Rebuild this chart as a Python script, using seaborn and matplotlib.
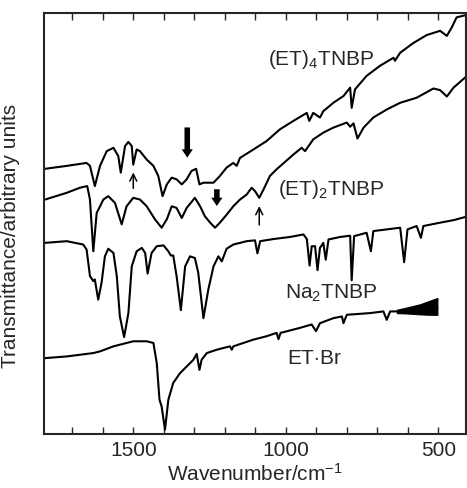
import numpy as np
import pandas as pd
import matplotlib
matplotlib.use('Agg')
import matplotlib.pyplot as plt
import seaborn as sns

# wavenumber (cm-1) and transmittance (arbitrary, offset)
et4_wn = [1789, 1718, 1653, 1642, 1626, 1609, 1587, 1565, 1549, 1541, 1527, 1516, 1505, 1500,
          1489, 1478, 1456, 1434, 1418, 1404, 1390, 1374, 1358, 1341, 1325, 1309, 1294, 1283,
          1270, 1237, 1216, 1194, 1172, 1161, 1150, 1106, 1063, 1019, 975, 931, 923, 910, 888,
          877, 844, 811, 789, 784, 773, 735, 691, 647, 642, 625, 582, 538, 494, 472, 456, 440, 412]
et4_t = [63.0, 63.7, 64.4, 63.7, 58.9, 63.7, 67.2, 68.0, 66.0, 62.1, 68.4, 69.4, 68.4, 64.0,
         67.6, 67.2, 65.2, 63.7, 61.3, 56.5, 59.3, 60.9, 60.5, 59.3, 60.5, 62.5, 63.0, 59.3,
         59.7, 59.7, 61.3, 63.3, 64.4, 63.7, 65.6, 67.6, 69.6, 72.4, 74.4, 76.3, 74.4, 76.3, 75.2,
         76.7, 78.7, 80.3, 82.3, 77.5, 81.9, 85.1, 87.5, 89.4, 88.7, 90.6, 92.9, 94.8, 95.8, 94.6,
         96.6, 99.0, 99.5]

et2_wn = [1789, 1718, 1675, 1651, 1642, 1631, 1620, 1598, 1582, 1560, 1538, 1522, 1500, 1478,
          1456, 1429, 1407, 1390, 1374, 1358, 1341, 1325, 1298, 1281, 1265, 1248, 1232, 1216,
          1194, 1172, 1150, 1128, 1112, 1101, 1087, 1073, 1052, 1030, 975, 948, 937, 910, 877,
          844, 800, 789, 778, 765, 745, 713, 669, 625, 571, 516, 494, 472, 450, 428, 409]
et2_t = [55.7, 57.3, 58.5, 58.9, 55.7, 43.4, 52.5, 55.7, 56.5, 54.9, 49.8, 54.1, 56.1, 55.7,
         54.1, 51.0, 49.0, 51.0, 54.1, 53.7, 51.3, 53.7, 56.1, 54.1, 51.7, 50.2, 49.0, 50.2,
         52.1, 54.1, 55.7, 56.9, 58.5, 57.7, 56.1, 58.1, 61.3, 62.9, 66.4, 68.0, 67.2, 70.0, 71.6,
         72.8, 74.0, 73.0, 73.8, 70.2, 72.8, 75.2, 77.1, 78.7, 79.9, 82.1, 81.7, 80.2, 82.3, 83.7, 84.9]

na2_wn = [1789, 1718, 1664, 1653, 1642, 1631, 1626, 1615, 1604, 1593, 1582, 1565, 1554, 1544,
          1530, 1516, 1505, 1489, 1472, 1461, 1453, 1440, 1423, 1401, 1385, 1377, 1369, 1358,
          1344, 1330, 1314, 1298, 1287, 1270, 1254, 1237, 1221, 1210, 1194, 1172, 1128, 1101,
          1093, 1084, 1041, 986, 942, 931, 922, 915, 904, 896, 888, 877, 869, 860, 822, 789, 784,
          776, 735, 721, 713, 669, 625, 612, 601, 571, 557, 549, 494, 450, 409]
na2_t = [45.4, 45.8, 45.0, 43.8, 37.5, 36.3, 36.7, 31.9, 35.9, 42.2, 44.0, 43.0, 37.5, 27.9,
         23.0, 28.7, 39.8, 43.4, 44.2, 43.0, 38.1, 43.0, 44.6, 44.8, 43.4, 42.4, 42.4, 37.5,
         29.4, 39.8, 42.2, 41.8, 38.3, 27.5, 34.3, 39.8, 42.2, 41.0, 44.0, 45.0, 45.8, 46.0,
         42.9, 45.8, 46.3, 46.8, 47.4, 46.3, 40.0, 44.6, 44.6, 38.9, 44.2, 45.4, 41.4, 46.2, 46.8,
         47.1, 36.5, 47.0, 47.8, 43.4, 48.2, 48.6, 49.0, 40.8, 48.6, 49.4, 46.6, 49.4, 50.2, 50.8, 51.6]

etbr_wn = [1789, 1718, 1631, 1609, 1565, 1522, 1500, 1456, 1434, 1423, 1414, 1407, 1396, 1385,
           1369, 1347, 1325, 1303, 1292, 1283, 1276, 1259, 1226, 1183, 1177, 1172, 1106, 1063,
           1030, 1024, 1017, 953, 915, 901, 888, 844, 816, 811, 800, 724, 680, 669, 658, 636,
           600, 560, 503]
etbr_t = [18.0, 18.4, 19.2, 19.6, 20.8, 21.6, 22.0, 22.0, 21.6, 16.8, 8.1, 6.5, 1.0, 8.1,
          12.1, 14.4, 16.0, 17.6, 19.0, 15.2, 17.6, 19.2, 20.0, 20.8, 20.0, 20.8, 22.4, 23.2,
          24.0, 22.5, 24.0, 25.2, 26.0, 24.4, 26.3, 27.5, 27.9, 26.3, 28.3, 28.7, 29.1, 27.1, 29.1,
          29.1, 29.4, 29.6, 29.8]
# noisy (blackened) end of the ET-Br trace: envelope
band_wn = [636, 600, 560, 530, 503]
band_hi = [29.5, 30.1, 30.8, 31.6, 32.3]
band_lo = [28.7, 28.6, 28.4, 28.3, 28.3]

labels = ['(ET)$\\mathregular{_4}$TNBP', '(ET)$\\mathregular{_2}$TNBP',
          'Na$\\mathregular{_2}$TNBP', 'ET$\\cdot$Br']
label_wn = [1057, 1024, 1002, 997]
label_t = [89.0, 58.1, 33.5, 18.0]

thin_arrow_wn = [1500, 1087]
thin_arrow_from = [57.7, 49.0]
thin_arrow_to = [62.8, 54.8]
thick_arrow_wn = [1323, 1226]
thick_arrow_from = [73.5, 58.8]
thick_arrow_to = [65.0, 53.5]

sns.set_style('ticks')
plt.rcParams['font.family'] = ['Liberation Sans', 'DejaVu Sans']
plt.rcParams['mathtext.fontset'] = 'custom'
plt.rcParams['mathtext.rm'] = 'Liberation Sans'
plt.rcParams['mathtext.it'] = 'Liberation Sans'

fig = plt.figure(figsize=(4.67, 4.88), dpi=100)
ax = fig.add_axes([0.094, 0.111, 0.904, 0.862])

for wn, t in [(et4_wn, et4_t), (et2_wn, et2_t), (na2_wn, na2_t), (etbr_wn, etbr_t)]:
    sns.lineplot(x=wn, y=t, ax=ax, color='black', lw=1.5, estimator=None, sort=False)
ax.fill_between(band_wn, band_lo, band_hi, color='black', lw=0.8)

for lab, x, y in zip(labels, label_wn, label_t):
    ax.text(x, y, lab, fontsize=15, ha='left', va='center')

for x, y0, y1 in zip(thin_arrow_wn, thin_arrow_from, thin_arrow_to):
    ax.annotate('', xy=(x, y1), xytext=(x, y0),
                arrowprops=dict(arrowstyle='->,head_length=0.5,head_width=0.25', lw=1.1, color='black'))
for x, y0, y1 in zip(thick_arrow_wn, thick_arrow_from, thick_arrow_to):
    ax.annotate('', xy=(x, y1), xytext=(x, y0),
                arrowprops=dict(arrowstyle='simple,head_width=0.8,head_length=0.6,tail_width=0.4',
                                color='black', lw=0))

ax.set_xlim(1793, 409)
ax.set_ylim(0, 100)
ax.set_xticks([1500, 1000, 500])
ax.set_xticks(np.arange(1700, 400, -100), minor=True)
ax.set_yticks([])
ax.tick_params(axis='x', which='both', direction='in', top=True, length=5, width=1, labelsize=15, pad=5)
for s in ax.spines.values():
    s.set_linewidth(1.5)
ax.set_xlabel('Wavenumber/cm$\\mathregular{^{-1}}$', fontsize=15, labelpad=2)
ax.set_ylabel('Transmittance/arbitrary units', fontsize=15)
ax.yaxis.set_label_coords(-0.057, 0.47)

fig.savefig('out.png', dpi=100)
